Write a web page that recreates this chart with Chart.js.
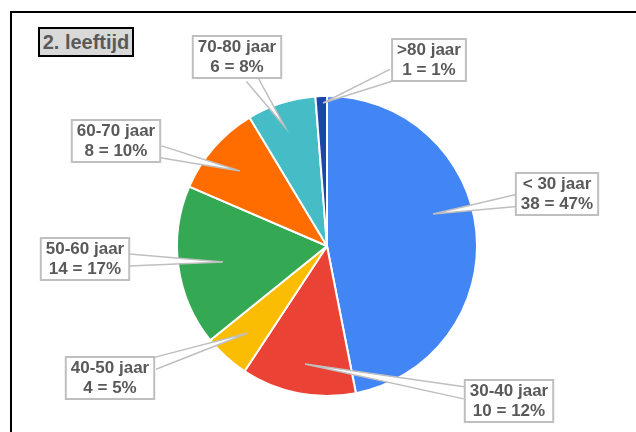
<!DOCTYPE html>
<html>
<head>
<meta charset="utf-8">
<script src="https://cdn.jsdelivr.net/npm/chart.js@4"></script>
<style>
  html, body { margin: 0; padding: 0; background: #fff; overflow: hidden; }
  #wrap { position: relative; width: 636px; height: 432px; }
  #frame { position: absolute; left: 10px; top: 11px; width: 700px; height: 500px; border: 2px solid #000; }
  #chart { position: absolute; left: 0; top: 0; }
  #title {
    position: absolute; left: 38px; top: 27px; width: 96px; height: 30px;
    box-sizing: border-box; border: 2px solid #000; background: #d9d9d9;
    font: bold 20px "Liberation Sans", Arial, sans-serif; color: #595959;
    text-align: center; line-height: 26px;
  }
</style>
</head>
<body>
<div id="wrap">
  <div id="frame"></div>
  <canvas id="chart" width="636" height="432"></canvas>
  <div id="title">2. leeftijd</div>
</div>
<script>
const categories = ['< 30 jaar', '30-40 jaar', '40-50 jaar', '50-60 jaar', '60-70 jaar', '70-80 jaar', '>80 jaar'];
const counts = [38, 10, 4, 14, 8, 6, 1];
const percents = [47, 12, 5, 17, 10, 8, 1];
const sliceColors = ['#4285f4', '#ea4335', '#fbbc04', '#34a853', '#ff6d01', '#46bdc6', '#1a47a8'];

// callout layout, offsets in px from the pie centre: [box x, box y, anchor x, anchor y]
const calloutLayout = [
  [230, -52, 106, -32],
  [182, 155, -22, 118],
  [-217, 132, -79, 87],
  [-242, 13, -104, 16],
  [-211, -105, -87, -75],
  [-90, -189, -42, -119],
  [102, -186, -4, -143]
];

const calloutPlugin = {
  id: 'callouts',
  afterDatasetsDraw(chart) {
    const ctx = chart.ctx;
    const meta = chart.getDatasetMeta(0);
    const cx = meta.data[0].x;
    const cy = meta.data[0].y;
    ctx.save();
    ctx.font = 'bold 17px "Liberation Sans", Arial, sans-serif';
    ctx.textAlign = 'center';
    ctx.textBaseline = 'middle';

    categories.forEach((cat, i) => {
      const [bx, by, ax, ay] = calloutLayout[i];
      const lines = [cat, `${counts[i]} = ${percents[i]}%`];
      const w = Math.max(...lines.map(l => ctx.measureText(l).width)) + 10;
      const h = 42;
      const boxX = cx + bx, boxY = cy + by;
      const px = cx + ax, py = cy + ay;

      // where the line from box centre to anchor leaves the box
      const dx = px - boxX, dy = py - boxY;
      const t = Math.min(Math.abs((w / 2) / dx || Infinity), Math.abs((h / 2) / dy || Infinity));
      const ex = boxX + dx * t, ey = boxY + dy * t;
      const len = Math.hypot(dx, dy);
      const nx = -dy / len * 6, ny = dx / len * 6;

      ctx.beginPath();
      ctx.moveTo(ex + nx, ey + ny);
      ctx.lineTo(px, py);
      ctx.lineTo(ex - nx, ey - ny);
      ctx.closePath();
      ctx.fillStyle = '#ffffff';
      ctx.fill();
      ctx.beginPath();
      ctx.moveTo(ex + nx, ey + ny);
      ctx.lineTo(px, py);
      ctx.lineTo(ex - nx, ey - ny);
      ctx.strokeStyle = '#bfbfbf';
      ctx.lineWidth = 1.5;
      ctx.stroke();

      ctx.fillStyle = '#ffffff';
      ctx.fillRect(boxX - w / 2, boxY - h / 2, w, h);
      ctx.lineWidth = 2;
      ctx.strokeRect(boxX - w / 2, boxY - h / 2, w, h);

      ctx.fillStyle = '#595959';
      ctx.fillText(lines[0], boxX, boxY - 10);
      ctx.fillText(lines[1], boxX, boxY + 10);
    });
    ctx.restore();
  }
};

new Chart(document.getElementById('chart'), {
  type: 'pie',
  data: {
    labels: categories,
    datasets: [{
      data: counts,
      backgroundColor: sliceColors,
      borderColor: '#ffffff',
      borderWidth: 2
    }]
  },
  options: {
    responsive: false,
    animation: false,
    layout: { padding: { left: 176, right: 158, top: 95, bottom: 35 } },
    plugins: {
      legend: { display: false },
      tooltip: { enabled: false }
    }
  },
  plugins: [calloutPlugin]
});
</script>
</body>
</html>
